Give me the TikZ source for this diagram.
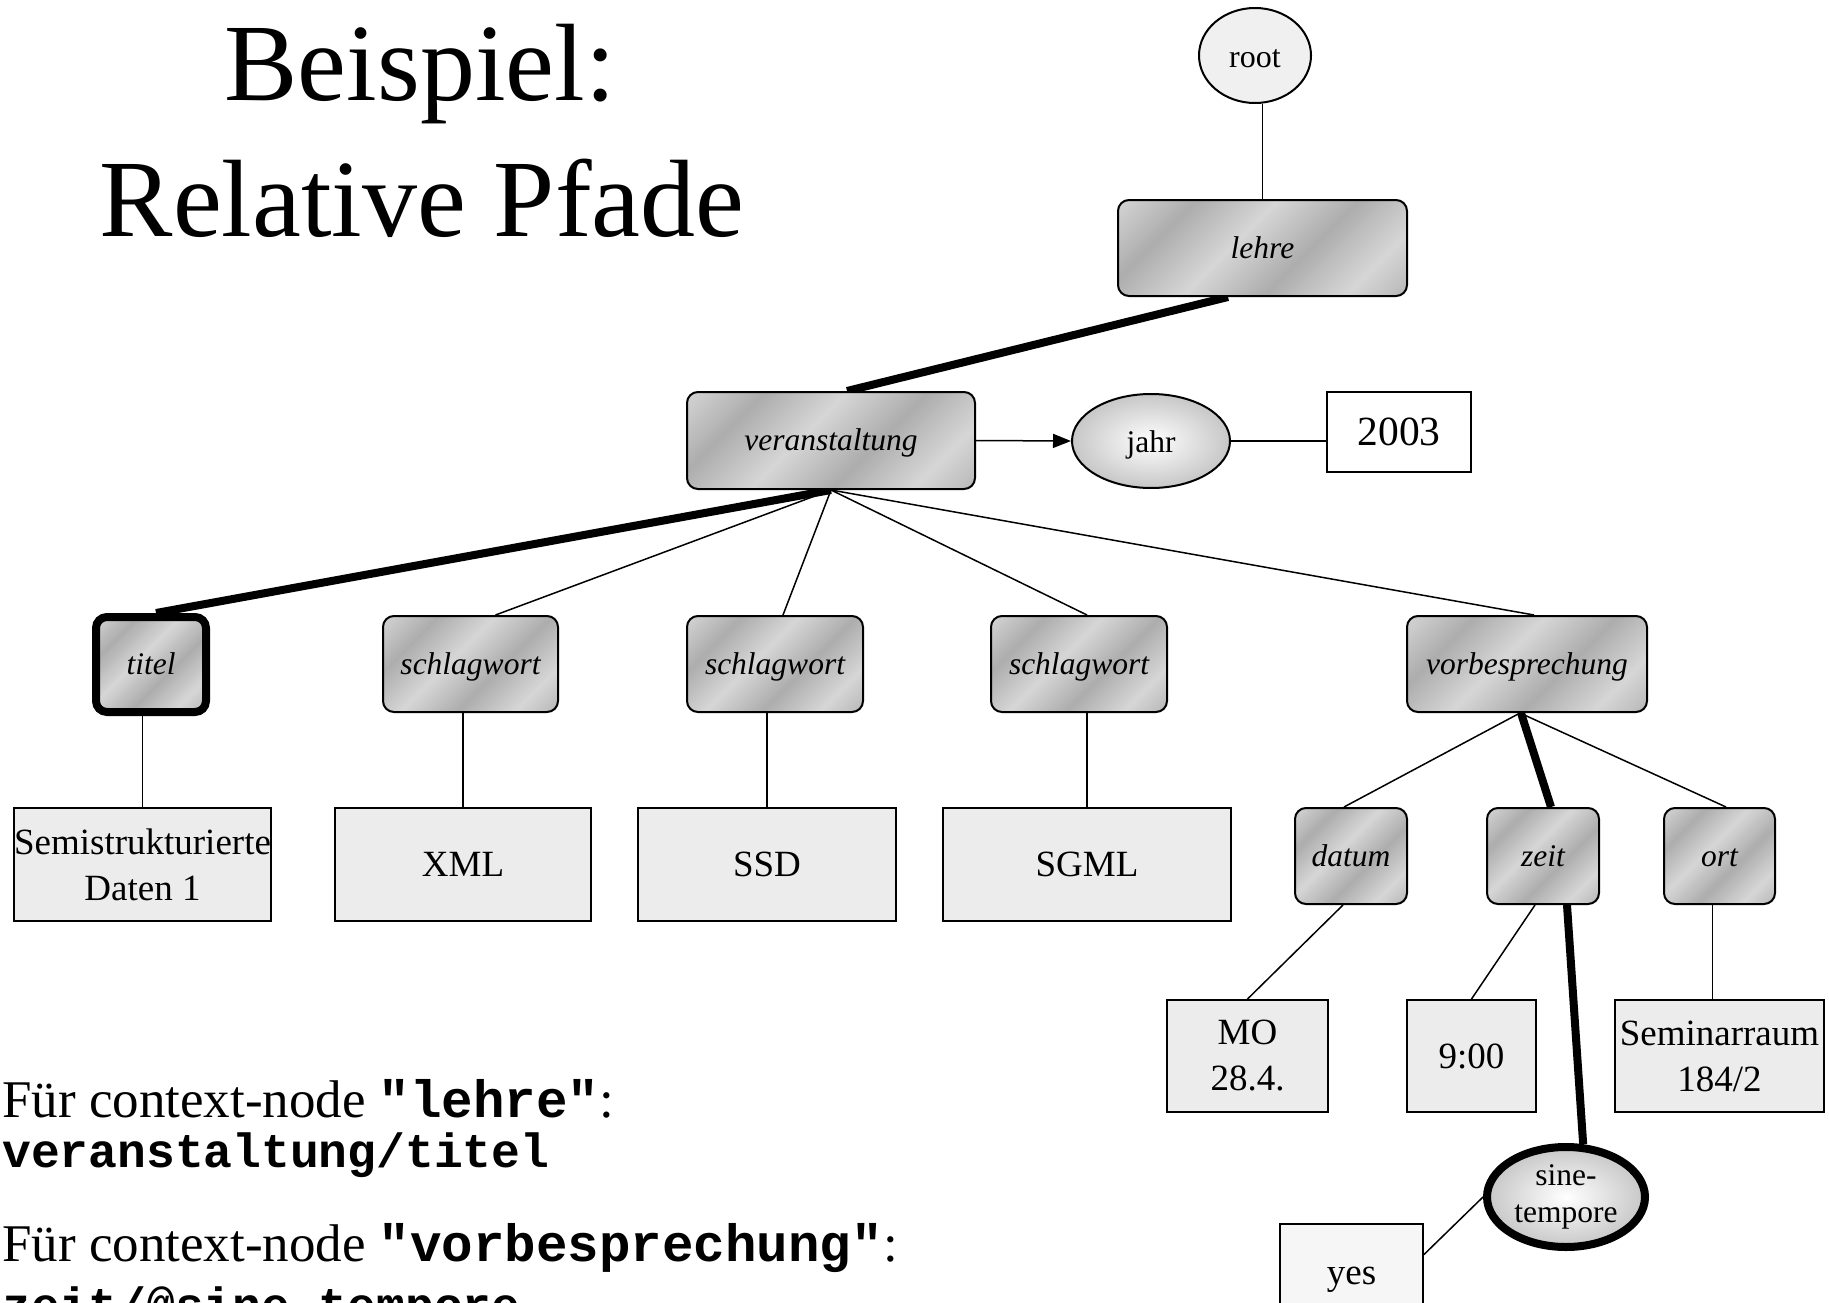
\documentclass[tikz,border=0pt]{standalone}
\usepackage{fontspec}
\setmainfont{Liberation Serif}
\setmonofont{Liberation Mono}
\usetikzlibrary{arrows.meta,shapes.geometric}
\definecolor{mlight}{HTML}{D6D6D6}
\definecolor{mdark}{HTML}{ADADAD}
\definecolor{leafgray}{HTML}{ECECEC}
\definecolor{yesgray}{HTML}{F6F6F6}
\definecolor{rootgray}{HTML}{F0F0F0}
\pgfdeclarehorizontalshading{metal}{100bp}{color(0bp)=(mdark); color(14bp)=(mlight); color(29bp)=(mdark); color(44bp)=(mlight); color(59bp)=(mdark); color(74bp)=(mlight); color(89bp)=(mdark); color(100bp)=(mlight)}
\pgfdeclarelayer{bg}
\pgfsetlayers{bg,main}
\begin{document}
\begin{tikzpicture}[x=1pt,y=-1pt,
  tagbox/.style={rectangle, rounded corners=11pt, draw, line width=2pt, shade, shading=metal, shading angle=-45,
    font=\fontsize{31.5}{38}\selectfont\itshape, inner sep=0pt, text height=24pt, text depth=4pt, minimum height=96pt},
  leaf/.style={rectangle, draw, line width=2pt, fill=leafgray, font=\fontsize{37}{46}\selectfont, align=center, inner sep=0pt},
  attr/.style={ellipse, draw, line width=2pt, inner color=white, outer color=black!22, inner sep=0pt,
    font=\fontsize{31.5}{37}\selectfont, align=center, minimum width=158pt, minimum height=94pt},
  edge/.style={line width=1.5pt},
  hot/.style={line width=8pt},
  bodytext/.style={anchor=base west, inner sep=0pt, font=\fontsize{53}{60}\selectfont},
  pathtext/.style={anchor=base west, inner sep=0pt, font=\ttfamily\bfseries\fontsize{48}{56}\selectfont},
  titletext/.style={anchor=base, inner sep=0pt, font=\fontsize{110}{130}\selectfont}
]
\useasboundingbox (0,0) rectangle (1829,1303);
\clip (0,0) rectangle (1829,1303);

% title
\node[titletext] (t1) at (420,101) {Beispiel:};
\node[titletext] (t2) at (422,236) {Relative Pfade};

% bottom-left text
\node[bodytext] (q1) at (2,1117) {Für context-node {\ttfamily\bfseries\fontsize{52.5}{60}\selectfont "lehre"}:};
\node[pathtext] (a1) at (2,1167) {veranstaltung/titel};
\node[bodytext] (q2) at (2,1261) {Für context-node {\ttfamily\bfseries\fontsize{52.5}{60}\selectfont "vorbesprechung"}:};
\node[pathtext] (a2) at (2,1321) {zeit/@sine-tempore};

% tree nodes
\node[ellipse, draw, line width=2pt, fill=rootgray, inner sep=0pt, minimum width=112pt, minimum height=95pt,
      font=\fontsize{32}{38}\selectfont, text height=25pt, text depth=0pt] (root) at (1255,55.5) {root};
\node[tagbox, minimum width=289pt] (lehre) at (1262.5,248) {lehre};
\node[tagbox, minimum width=288pt, minimum height=97pt] (veranst) at (831,440.5) {veranstaltung};
\node[attr, text height=24pt, text depth=2pt] (jahr) at (1151,441) {jahr};
\node[rectangle, draw, line width=2pt, fill=white, inner sep=0pt, minimum width=144pt, minimum height=80pt,
      font=\fontsize{41.5}{48}\selectfont] (y2003) at (1399,432) {2003};

\node[tagbox, line width=8pt, minimum width=110pt, minimum height=95pt] (titel) at (151,664.5) {titel};
\node[tagbox, minimum width=175pt] (sw1) at (470.5,664) {schlagwort};
\node[tagbox, minimum width=176pt] (sw2) at (775,664) {schlagwort};
\node[tagbox, minimum width=176pt] (sw3) at (1079,664) {schlagwort};
\node[tagbox, minimum width=240pt] (vorb) at (1527,664) {vorbesprechung};

\node[leaf, minimum width=257pt, minimum height=113pt] (semi) at (142.5,864.5) {Semistrukturierte\\Daten 1};
\node[leaf, minimum width=256pt, minimum height=113pt] (xml) at (463,864.5) {XML};
\node[leaf, minimum width=258pt, minimum height=113pt] (ssd) at (767,864.5) {SSD};
\node[leaf, minimum width=288pt, minimum height=113pt] (sgml) at (1087,864.5) {SGML};

\node[tagbox, minimum width=112pt] (datum) at (1351,856) {datum};
\node[tagbox, minimum width=112pt] (zeit) at (1543,856) {zeit};
\node[tagbox, minimum width=111pt] (ort) at (1719.5,856) {ort};

\node[leaf, minimum width=161pt, minimum height=112pt] (mo) at (1247.5,1056) {MO\\28.4.};
\node[leaf, minimum width=129pt, minimum height=112pt] (nine) at (1471.5,1056) {9:00};
\node[leaf, minimum width=209pt, minimum height=112pt] (sem) at (1719.5,1056) {Seminarraum\\184/2};

\node[attr, line width=8pt, minimum height=100pt] (sine) at (1566,1197) {sine-\\tempore};
\node[leaf, fill=yesgray, minimum width=143pt, minimum height=111pt] (yes) at (1351.5,1279.5) {yes};

% connectors
\begin{pgfonlayer}{bg}
\fill[white] (0,0) rectangle (1829,1303);
\draw[edge] (lehre.north) -- (lehre.north |- root.south);
\draw[hot] ([xshift=-34.5pt]lehre.south) -- ([xshift=16pt]veranst.north);
\draw[edge, -{Triangle[length=18pt,width=14pt]}] (veranst.east) -- (jahr.west);
\draw[edge] (jahr.east) -- (jahr.east -| y2003.west);
\draw[hot] (veranst.south) -- ([xshift=5pt]titel.north);
\draw[edge] (veranst.south) -- ([xshift=25pt]sw1.north);
\draw[edge] (veranst.south) -- ([xshift=8pt]sw2.north);
\draw[edge] (veranst.south) -- ([xshift=8pt]sw3.north);
\draw[edge] (veranst.south) -- ([xshift=7pt]vorb.north);
\draw[edge] (semi.north) -- (semi.north |- titel.south);
\draw[edge] (xml.north) -- (xml.north |- sw1.south);
\draw[edge] (ssd.north) -- (ssd.north |- sw2.south);
\draw[edge] (sgml.north) -- (sgml.north |- sw3.south);
\draw[edge] ([xshift=-7pt]vorb.south) -- ([xshift=-7pt]datum.north);
\draw[hot] ([xshift=-6pt]vorb.south) -- ([xshift=8pt]zeit.north);
\draw[edge] ([xshift=-7pt]vorb.south) -- ([xshift=6.5pt]ort.north);
\draw[edge] ([xshift=-8pt]datum.south) -- (mo.north);
\draw[edge] ([xshift=-8pt]zeit.south) -- (nine.north);
\draw[hot] ([xshift=24pt]zeit.south) -- (sine.72);
\draw[edge] ([xshift=-7pt]sem.north) -- ([xshift=-7pt]sem.north |- ort.south);
\draw[edge] ([yshift=25pt]yes.east) -- (sine.west);
\end{pgfonlayer}
\end{tikzpicture}
\end{document}
